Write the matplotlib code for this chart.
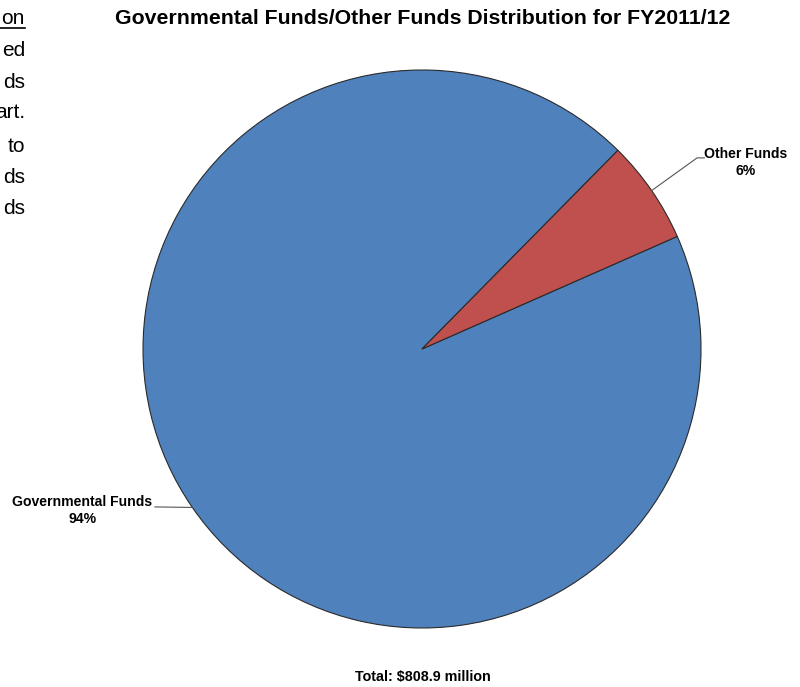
import numpy as np
import matplotlib
matplotlib.use("Agg")
from matplotlib import pyplot as plt

# data
labels = ["Governmental Funds", "Other Funds"]
shares = [94, 6]
colors = ["#4F81BD", "#C0504D"]
title = "Governmental Funds/Other Funds Distribution for FY2011/12"
total_text = "Total: $808.9 million"
# fragments of the surrounding document text, cut at the left edge
side_text = ["on", "ed", "ds", "art.", "to", "ds", "ds"]

narrow = ["Liberation Sans Narrow", "Arial Narrow", "Liberation Sans", "DejaVu Sans"]

W, H = 800, 687
fig = plt.figure(figsize=(8, 6.87), dpi=100)

# pie centre (422, 349) px, radius 279 px
cx, cy, r = 422, 349, 279
ax = fig.add_axes([(cx - r) / W, (H - cy - r) / H, 2 * r / W, 2 * r / H])
wedges, _ = ax.pie(shares, colors=colors, startangle=45.4, counterclock=True,
                   wedgeprops=dict(edgecolor="#2a2a2a", linewidth=0.8))
ax.set_xlim(-1, 1)
ax.set_ylim(-1, 1)
ax.set_aspect("equal")
ax.axis("off")

# labels with leader lines
label_pos = {"Governmental Funds": (-1.217, -0.578), "Other Funds": (1.160, 0.668)}
for w, lab, val in zip(wedges, labels, shares):
    mid = np.deg2rad((w.theta1 + w.theta2) / 2)
    ex, ey = np.cos(mid), np.sin(mid)
    tx, ty = label_pos[lab]
    if ex > 0:
        ax.plot([ex, 0.986, 1.012], [ey, 0.685, 0.685], color="#555555", lw=0.8, clip_on=False)
    else:
        ax.plot([ex, -0.957], [ey, -0.566], color="#555555", lw=0.8, clip_on=False)
    ax.text(tx, ty, f"{lab}\n{val}%", ha="center", va="center", fontsize=10.1,
            fontweight="bold", family=narrow, linespacing=1.25)

fig.text(423 / W, 1 - 18 / H, title, ha="center", va="center", fontsize=15.3,
         fontweight="bold", family=narrow)
fig.text(423 / W, 1 - 677 / H, total_text, ha="center", va="center", fontsize=10.3,
         fontweight="bold", family=narrow)

ys = [18, 51, 82, 112, 146, 177, 209]
for s, y in zip(side_text, ys):
    fig.text(25 / W, 1 - y / H, s, ha="right", va="center", fontsize=15,
             family=["Liberation Sans", "DejaVu Sans"])
fig.add_artist(plt.Line2D([0, 25 / W], [1 - 28 / H, 1 - 28 / H], color="black", lw=1.2))

fig.savefig("out.png", dpi=100, facecolor="white")
